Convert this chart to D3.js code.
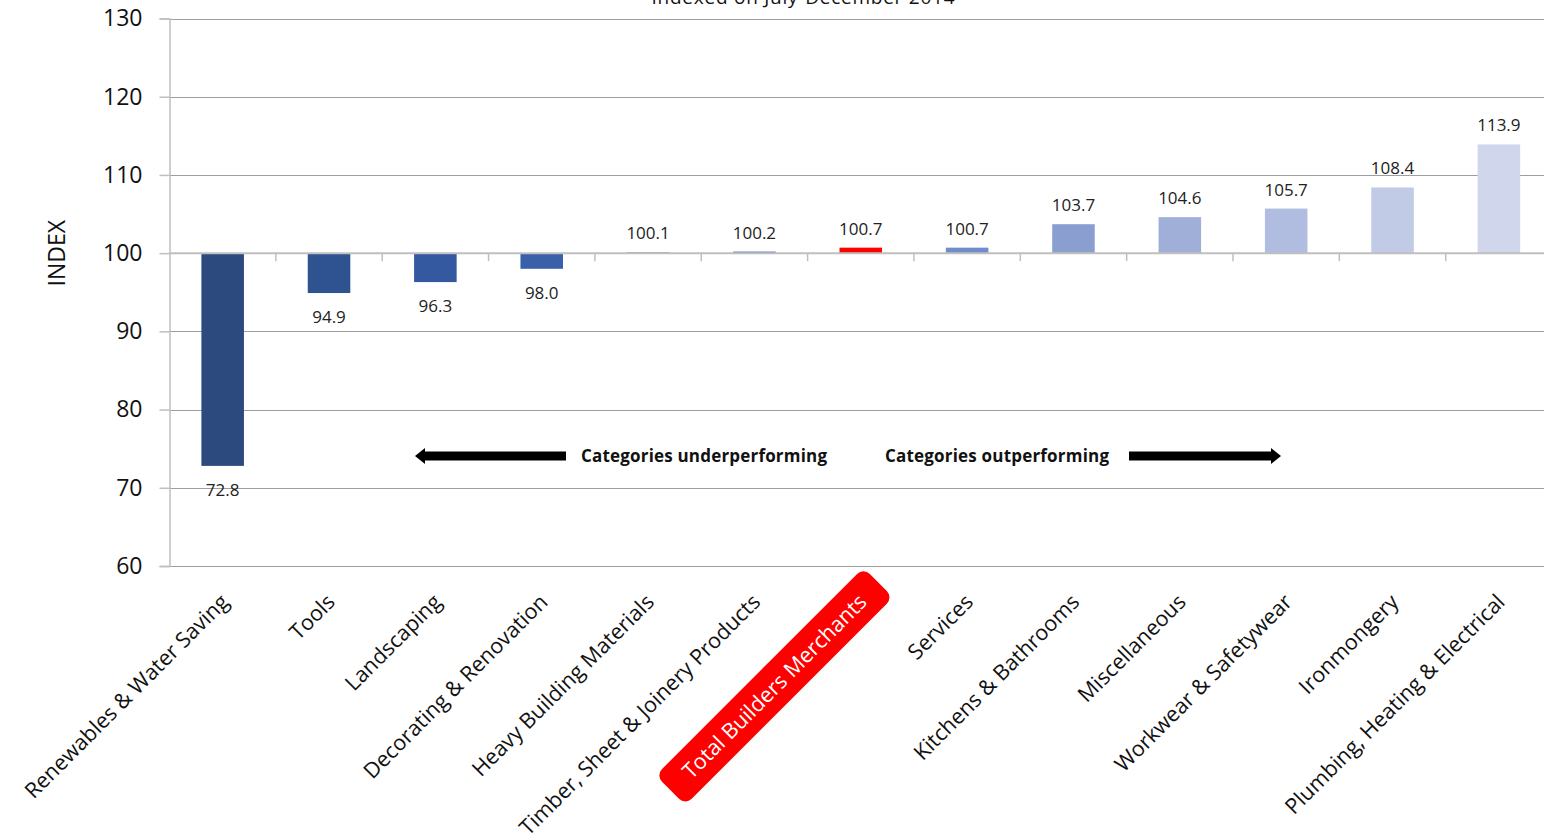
<!DOCTYPE html>
<html>
<head>
<meta charset="utf-8">
<script src="https://cdn.jsdelivr.net/npm/d3@7/dist/d3.min.js"></script>
<style>
  html, body { margin: 0; padding: 0; background: #fff; overflow: hidden; }
  svg { display: block; }
</style>
</head>
<body>
<svg id="chart" width="1544" height="840"></svg>
<script>
// Builders merchants category index, July-December 2014 = 100
const categories = [
  "Renewables & Water Saving", "Tools", "Landscaping", "Decorating & Renovation",
  "Heavy Building Materials", "Timber, Sheet & Joinery Products", "Total Builders Merchants",
  "Services", "Kitchens & Bathrooms", "Miscellaneous", "Workwear & Safetywear",
  "Ironmongery", "Plumbing, Heating & Electrical"
];
const values = [72.8, 94.9, 96.3, 98.0, 100.1, 100.2, 100.7, 100.7, 103.7, 104.6, 105.7, 108.4, 113.9];
const barColors = [
  "#2D4A7E", "#2F5391", "#3459A0", "#3A60AA", "#4868B2", "#5574BA", "#FF0000",
  "#6F8CCB", "#8A9ED0", "#9FAFD8", "#B0BDE0", "#C1CBE6", "#D0D7EC"
];
const yTicks = [60, 70, 80, 90, 100, 110, 120, 130];
const baseValue = 100;
const highlight = "Total Builders Merchants";

const svg = d3.select("#chart");
const left = 169.5, bandStep = 106.35;
const x = d3.scaleBand()
  .domain(categories)
  .range([left, left + bandStep * categories.length])
  .paddingInner(0.6).paddingOuter(0.3);
const y = d3.scaleLinear().domain([60, 130]).range([566, 18.5]);

// title (partly above the top edge)
svg.append("text")
  .attr("x", 803).attr("y", 4)
  .attr("text-anchor", "middle")
  .style("font-family", "'Open Sans', sans-serif")
  .style("font-size", "19px").attr("fill", "#111")
  .attr("textLength", 303)
  .text("Indexed on July-December 2014");

// horizontal gridlines
svg.append("g").selectAll("line").data(yTicks).join("line")
  .attr("x1", left).attr("x2", 1544)
  .attr("y1", d => Math.round(y(d)) + 0.5).attr("y2", d => Math.round(y(d)) + 0.5)
  .attr("stroke", "#9E9E9E").attr("stroke-width", 1);

// y axis
const yAxis = svg.append("g")
  .attr("transform", `translate(${left},0)`)
  .call(d3.axisLeft(y).tickValues(yTicks).tickSize(10).tickPadding(17));
yAxis.select(".domain").attr("stroke", "#BFBFBF").attr("stroke-width", 1.5);
yAxis.selectAll(".tick line").attr("stroke", "#BFBFBF").attr("stroke-width", 1.5);
yAxis.selectAll(".tick text")
  .style("font-family", "'Open Sans', sans-serif")
  .style("font-size", "23px").attr("fill", "#111");

svg.append("text")
  .attr("transform", `translate(65,${y(baseValue)}) rotate(-90)`)
  .attr("text-anchor", "middle")
  .style("font-family", "'Open Sans', sans-serif")
  .style("font-size", "23px").attr("fill", "#111")
  .text("INDEX");

// bars grow from the 100 baseline
svg.append("g").selectAll("rect").data(categories).join("rect")
  .attr("x", d => x(d))
  .attr("width", x.bandwidth())
  .attr("y", (d, i) => y(Math.max(values[i], baseValue)))
  .attr("height", (d, i) => Math.abs(y(values[i]) - y(baseValue)))
  .attr("fill", (d, i) => barColors[i]);

// category axis along the baseline
const boundaries = d3.range(categories.length + 1).map(i => left + i * bandStep);
svg.append("line")
  .attr("x1", left).attr("x2", 1544)
  .attr("y1", y(baseValue)).attr("y2", y(baseValue))
  .attr("stroke", "#BFBFBF").attr("stroke-width", 2);
svg.append("g").selectAll("line").data(boundaries.slice(1)).join("line")
  .attr("x1", d => d).attr("x2", d => d)
  .attr("y1", y(baseValue)).attr("y2", y(baseValue) + 8)
  .attr("stroke", "#BFBFBF").attr("stroke-width", 1.5);

// value labels
svg.append("g").selectAll("text").data(categories).join("text")
  .attr("x", d => x(d) + x.bandwidth() / 2)
  .attr("y", (d, i) => values[i] >= baseValue ? y(values[i]) - 13 : y(values[i]) + 30)
  .attr("text-anchor", "middle")
  .style("font-family", "'Open Sans', sans-serif")
  .style("font-size", "17px").attr("fill", "#222")
  .text((d, i) => values[i].toFixed(1));

// rotated category labels
const labelG = svg.append("g");
categories.forEach(c => {
  const cx = x(c) + x.bandwidth() / 2 + 2;
  const g = labelG.append("g").attr("transform", `translate(${cx},598) rotate(-45)`);
  const t = g.append("text")
    .attr("text-anchor", "end")
    .attr("dy", "0.35em")
    .style("font-family", "'Open Sans', sans-serif")
    .style("font-size", "21.5px")
    .attr("fill", c === highlight ? "#fff" : "#111")
    .text(c);
  if (c === highlight) {
    const w = t.node().getComputedTextLength();
    g.insert("rect", "text")
      .attr("x", -w - 22).attr("y", -21)
      .attr("width", w + 44).attr("height", 42)
      .attr("rx", 9).attr("fill", "#FF0000");
  }
});

// direction arrows with captions
const arrowY = 456;
function arrow(x0, x1) {
  const dir = Math.sign(x1 - x0);
  const head = 10;
  const p = d3.path();
  p.moveTo(x0, arrowY - 4.5);
  p.lineTo(x1 - dir * head, arrowY - 4.5);
  p.lineTo(x1 - dir * head, arrowY - 8);
  p.lineTo(x1, arrowY);
  p.lineTo(x1 - dir * head, arrowY + 8);
  p.lineTo(x1 - dir * head, arrowY + 4.5);
  p.lineTo(x0, arrowY + 4.5);
  p.closePath();
  svg.append("path").attr("d", p.toString()).attr("fill", "#000");
}
arrow(566, 415);
arrow(1129, 1281);
svg.append("text")
  .attr("x", 704).attr("y", arrowY + 6)
  .attr("text-anchor", "middle")
  .style("font-family", "'Open Sans', sans-serif")
  .style("font-weight", "bold").style("font-size", "17px")
  .attr("fill", "#111")
  .attr("textLength", 246)
  .text("Categories underperforming");
svg.append("text")
  .attr("x", 997).attr("y", arrowY + 6)
  .attr("text-anchor", "middle")
  .style("font-family", "'Open Sans', sans-serif")
  .style("font-weight", "bold").style("font-size", "17px")
  .attr("fill", "#111")
  .attr("textLength", 224)
  .text("Categories outperforming");
</script>
</body>
</html>
